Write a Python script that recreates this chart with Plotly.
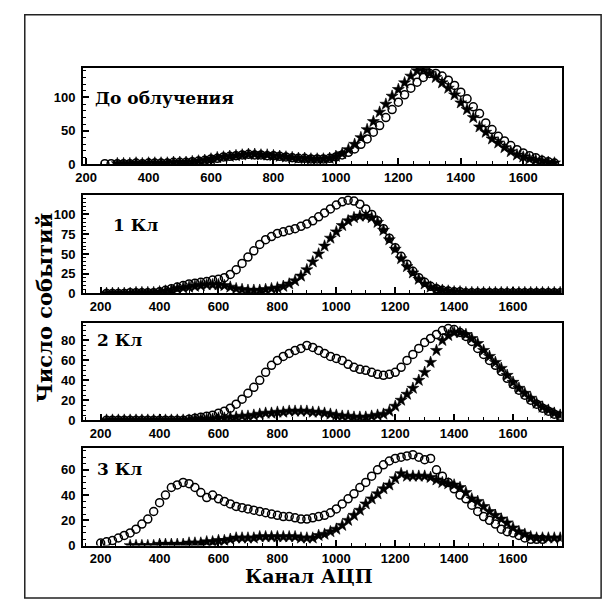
import numpy as np
import plotly.graph_objects as go

# ---------------- data ----------------
# Panel 1: "До облучения"
p1_circ_x = list(range(260, 1701, 20))
p1_circ_y = [1, 1, 1, 1, 1, 2, 1, 2, 2, 2, 2, 3, 3, 3, 4, 5, 6, 8, 9, 11,
             12, 13, 14, 15, 14, 14, 13, 13, 12, 11, 10, 9, 9, 8, 8, 8, 9, 11, 14, 18,
             23, 30, 38, 48, 58, 70, 82, 93, 104, 114, 123, 130, 136, 136, 132, 126, 118, 108, 98, 86,
             76, 62, 52, 42, 35, 28, 22, 17, 13, 10, 6, 4, 2]
p1_star_x = list(range(300, 1701, 20))
p1_star_y = [1, 1, 1, 2, 1, 2, 2, 2, 2, 3, 3, 3, 4, 5, 6, 8, 10, 11, 12, 13,
             14, 15, 15, 14, 14, 13, 12, 11, 10, 9, 9, 8, 8, 8, 9, 12, 16, 22, 30, 40,
             52, 64, 78, 90, 102, 112, 122, 132, 140, 141, 136, 130, 122, 114, 104, 92, 82, 70, 56, 48,
             38, 32, 25, 19, 14, 11, 8, 6, 5, 3, 2]

# Panel 2: "1 Кл"
p2_circ_x = list(range(220, 1761, 20))
p2_circ_y = [0, 0, 0, 0, 1, 1, 1, 1, 1, 2, 4, 6, 8, 10, 12, 13, 14, 15, 17, 18,
             20, 24, 30, 38, 46, 54, 62, 68, 72, 76, 78, 80, 82, 85, 88, 92, 97, 102, 107, 112,
             116, 118, 117, 113, 107, 100, 92, 82, 70, 58, 47, 37, 28, 20, 14, 9, 6, 4, 3, 2,
             2, 1, 1, 1, 1, 1, 1, 1, 1, 1, 1, 1, 1, 1, 1, 1, 1, 1]
p2_star_x = list(range(220, 1761, 20))
p2_star_y = [0, 0, 0, 0, 0, 1, 1, 1, 1, 2, 3, 4, 6, 7, 8, 9, 10, 11, 11, 11,
             10, 8, 6, 5, 4, 4, 4, 5, 6, 7, 9, 12, 16, 22, 30, 40, 50, 60, 70, 78,
             86, 92, 96, 98, 98, 96, 90, 80, 68, 56, 44, 34, 26, 18, 12, 8, 6, 4, 3, 2,
             2, 1, 1, 1, 1, 1, 1, 1, 1, 1, 1, 1, 1, 1, 1, 1, 1, 1]

# Panel 3: "2 Кл"
p3_circ_x = list(range(220, 1761, 20))
p3_circ_y = [0, 0, 0, 0, 0, 0, 0, 0, 0, 0, 0, 0, 0, 0, 1, 2, 3, 4, 5, 7,
             9, 12, 16, 21, 27, 33, 40, 48, 55, 60, 64, 67, 70, 72, 75, 73, 70, 67, 64, 62,
             60, 56, 53, 51, 50, 48, 46, 45, 46, 48, 53, 60, 66, 72, 78, 82, 86, 90, 92, 91,
             88, 84, 79, 72, 66, 60, 55, 49, 42, 36, 30, 25, 20, 16, 12, 9, 6, 4]
p3_star_x = list(range(220, 1761, 20))
p3_star_y = [0, 0, 0, 0, 0, 0, 0, 0, 0, 0, 0, 0, 0, 0, 0, 1, 1, 1, 1, 2,
             2, 3, 3, 4, 4, 5, 6, 7, 7, 8, 8, 9, 9, 9, 9, 8, 8, 7, 6, 5,
             4, 4, 3, 3, 3, 4, 5, 6, 9, 14, 20, 26, 32, 40, 48, 58, 70, 80, 85, 88,
             88, 86, 82, 77, 70, 64, 58, 52, 45, 38, 32, 27, 22, 17, 13, 10, 7, 5]

# Panel 4: "3 Кл"
p4_circ_x = list(range(200, 1701, 20))
p4_circ_y = [2, 3, 4, 6, 8, 10, 13, 17, 21, 27, 34, 40, 46, 48, 50, 49, 46, 42, 38, 40,
             37, 35, 33, 31, 30, 29, 28, 27, 26, 25, 24, 23, 23, 22, 21, 21, 22, 23, 24, 26,
             29, 33, 37, 41, 46, 50, 55, 60, 64, 67, 69, 70, 71, 72, 70, 68, 69, 60, 55, 50,
             45, 40, 37, 32, 27, 23, 20, 17, 13, 11, 10, 8, 6, 5, 5, 5]
p4_star_x = list(range(300, 1761, 20))
p4_star_y = [0, 0, 0, 0, 0, 1, 1, 1, 1, 1, 2, 2, 2, 3, 3, 4, 4, 5, 6, 6,
             6, 6, 7, 7, 7, 7, 7, 7, 7, 6, 6, 6, 8, 9, 11, 13, 16, 20, 24, 28,
             33, 37, 41, 45, 48, 53, 57, 55, 55, 55, 55, 54, 52, 50, 49, 48, 46, 42, 37, 35,
             31, 27, 24, 21, 18, 14, 11, 9, 7, 6, 6, 6, 6, 6]

panel_labels = ["До облучения", "1 Кл", "2 Кл", "3 Кл"]
x_ticks = [200, 400, 600, 800, 1000, 1200, 1400, 1600]
y_ticks = [[0, 50, 100], [0, 25, 50, 75, 100], [0, 20, 40, 60, 80], [0, 20, 40, 60]]
x_ranges = [[190, 1723], [140, 1765], [140, 1765], [140, 1765]]
y_ranges = [[0, 144], [0, 125], [0, 97.5], [0, 77]]
y_minor = [10, 5, 5, 5]
x_title = "Канал АЦП"
y_title = "Число событий"

series = [
    (p1_circ_x, p1_circ_y, p1_star_x, p1_star_y),
    (p2_circ_x, p2_circ_y, p2_star_x, p2_star_y),
    (p3_circ_x, p3_circ_y, p3_star_x, p3_star_y),
    (p4_circ_x, p4_circ_y, p4_star_x, p4_star_y),
]

# ---------------- layout geometry (pixels) ----------------
W, H = 610, 613
x_left_px, x_right_px = 76, 561
panels_px = [(69, 166.5), (197.3, 297.3), (327.3, 425.7), (454.3, 552.8)]
label_px = [(86, 99), (104, 228), (88, 345), (88, 475)]


def py(p):
    return 1 - p / H


def px(p):
    return p / W


fig = go.Figure()
layout = dict(
    width=W, height=H, margin=dict(l=0, r=0, t=0, b=0),
    paper_bgcolor="white", plot_bgcolor="white", showlegend=False,
    font=dict(family="Liberation Sans", color="black"),
)

tickfont = dict(family="Liberation Sans", size=13, color="black", weight="bold")

for i, (cx, cy, sx, sy) in enumerate(series):
    n = "" if i == 0 else str(i + 1)
    xa, ya = "x" + n, "y" + n
    fig.add_trace(go.Scatter(
        x=cx, y=cy, mode="markers", xaxis=xa, yaxis=ya, cliponaxis=True,
        marker=dict(symbol="circle-open", size=8, color="black", line=dict(width=1.5, color="black")),
    ))
    fig.add_trace(go.Scatter(
        x=sx, y=sy, mode="markers", xaxis=xa, yaxis=ya, cliponaxis=True,
        marker=dict(symbol="star", size=9, color="black", line=dict(width=0.6, color="black")),
    ))
    top, bot = panels_px[i]
    layout["xaxis" + n] = dict(
        domain=[px(x_left_px), px(x_right_px)], anchor=ya, range=x_ranges[i],
        tickvals=x_ticks, ticks="inside", ticklen=6, tickwidth=1.5, tickcolor="black",
        minor=dict(ticks="inside", ticklen=3, dtick=50, tickcolor="black", tickwidth=1),
        showline=True, linewidth=2, linecolor="black", mirror=True,
        showgrid=False, zeroline=False, tickfont=tickfont, ticklabelstandoff=0,
    )
    layout["yaxis" + n] = dict(
        domain=[py(bot), py(top)], anchor=xa, range=y_ranges[i],
        tickvals=y_ticks[i], ticks="inside", ticklen=6, tickwidth=1.5, tickcolor="black",
        minor=dict(ticks="inside", ticklen=3, dtick=y_minor[i], tickcolor="black", tickwidth=1),
        showline=True, linewidth=2, linecolor="black", mirror=True,
        showgrid=False, zeroline=False, tickfont=tickfont, ticklabelstandoff=3,
    )

annotations = []
for i, lab in enumerate(panel_labels):
    lx, ly = label_px[i]
    annotations.append(dict(
        text=lab, x=px(lx), y=py(ly), xref="paper", yref="paper",
        xanchor="left", yanchor="middle", showarrow=False,
        font=dict(family="DejaVu Serif", size=17, color="black", weight="bold"),
    ))
annotations.append(dict(
    text=x_title, x=px(305), y=py(584), xref="paper", yref="paper",
    xanchor="center", yanchor="middle", showarrow=False,
    font=dict(family="DejaVu Serif", size=19, color="black", weight="bold"),
))
annotations.append(dict(
    text=y_title, x=px(37), y=py(312), xref="paper", yref="paper",
    xanchor="center", yanchor="middle", showarrow=False, textangle=-90,
    font=dict(family="DejaVu Serif", size=21, color="black", weight="bold"),
))
layout["annotations"] = annotations
layout["shapes"] = [dict(
    type="rect", xref="paper", yref="paper",
    x0=px(17), x1=px(601), y0=py(606), y1=py(15),
    line=dict(color="#222", width=1.5),
)]

fig.update_layout(**layout)
fig.write_html("out.html")
